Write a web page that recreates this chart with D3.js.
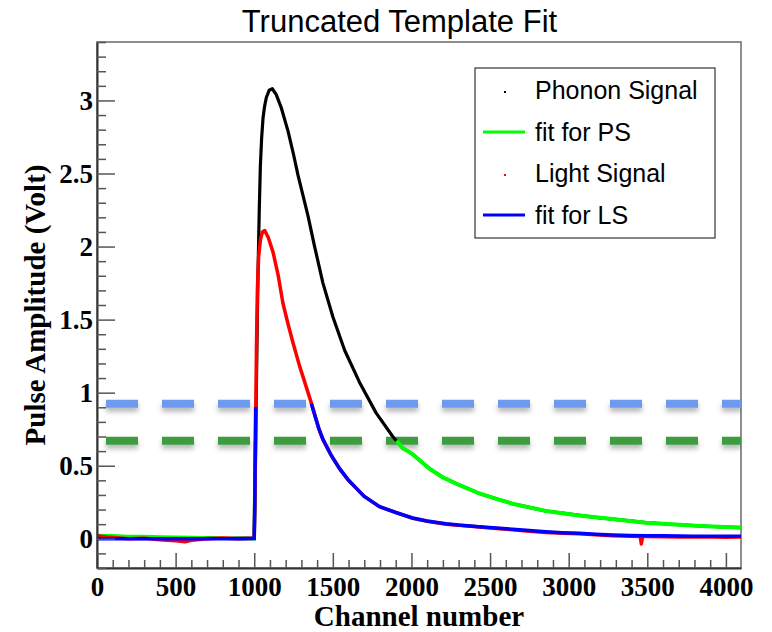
<!DOCTYPE html>
<html><head><meta charset="utf-8">
<script src="https://cdn.jsdelivr.net/npm/d3@7/dist/d3.min.js"></script>
<style>body{margin:0;background:#fff}svg{display:block}</style>
</head><body><svg id="c" width="772" height="632"></svg>
<script>
// ---------------- data ----------------
const xMajorTicks = [0,500,1000,1500,2000,2500,3000,3500,4000];
const yMajorTicks = [0,0.5,1,1.5,2,2.5,3];
const yTickLabels = ["0","0.5","1","1.5","2","2.5","3"];
const legendLabels = ["Phonon Signal","fit for PS","Light Signal","fit for LS"];
const thresholdLS = 0.925;   // blue dashed level
const thresholdPS = 0.671;   // green dashed level

const phononCh = [0,100,200,300,400,500,600,700,800,900,1000,1005,1010,1014,1019,1024,1032,1039,1047,1056,1066,1077,1095,1115,1140,1172,1215,1250,1278,1310,1342,1384,1437,1500,1575,1670,1776,1881,1945,2000,2114,2200,2300,2432,2550,2643,2750,2855,2960,3067,3170,3278,3390,3490,3600,3702,3800,3913,4000,4096];
const phononV  = [0.012,0.006,0.01,0.002,0.006,0.0,-0.004,0.006,0.002,0.005,0.006,0.3,0.75,1.04,1.45,1.81,2.25,2.55,2.74,2.88,2.96,3.02,3.07,3.08,3.04,2.95,2.79,2.63,2.49,2.35,2.21,2.0,1.75,1.52,1.29,1.07,0.86,0.70,0.62,0.585,0.48,0.42,0.37,0.31,0.27,0.24,0.215,0.19,0.175,0.16,0.147,0.135,0.122,0.11,0.103,0.096,0.09,0.084,0.08,0.077];

const lightCh = [0,60,100,200,300,400,500,560,600,700,800,900,1000,1004,1008,1014,1020,1028,1040,1052,1067,1090,1120,1151,1183,1215,1247,1289,1310,1363,1412,1437,1490,1543,1600,1650,1700,1797,1900,2008,2100,2220,2300,2432,2540,2643,2750,2855,2960,3067,3170,3278,3390,3455,3462,3470,3490,3600,3702,3800,3913,4000,4096];
const lightV  = [0.02,0.012,0.008,0.0,0.004,-0.006,-0.014,-0.02,-0.01,0.0,0.006,0.0,0.004,0.25,0.6,1.3,1.7,1.93,2.05,2.1,2.11,2.06,1.96,1.81,1.61,1.47,1.34,1.18,1.11,0.93,0.75,0.68,0.57,0.48,0.40,0.345,0.29,0.22,0.18,0.14,0.12,0.10,0.092,0.08,0.07,0.062,0.052,0.043,0.038,0.034,0.027,0.021,0.018,0.016,-0.035,0.015,0.016,0.014,0.013,0.012,0.013,0.011,0.012];

// fit for PS: truncated above the green threshold
const fitPsHeadCh = [0,100,200,300,400,500,600,700,800,900,1000,1004,1008];
const fitPsHeadV  = [0.022,0.02,0.016,0.016,0.012,0.01,0.008,0.006,0.004,0.002,0.0,0.35,0.671];
const fitPsTailCh = [1905,1945,2000,2114,2200,2300,2432,2550,2643,2750,2855,2960,3067,3170,3278,3390,3490,3600,3702,3800,3913,4000,4096];
const fitPsTailV  = [0.671,0.62,0.585,0.48,0.42,0.37,0.31,0.27,0.24,0.215,0.19,0.175,0.16,0.147,0.135,0.122,0.11,0.103,0.096,0.09,0.084,0.08,0.077];

// fit for LS: truncated above the blue threshold
const fitLsHeadCh = [0,100,200,300,400,500,600,700,800,900,1000,1004,1009];
const fitLsHeadV  = [0.0,0.0,0.0,0.0,0.0,0.0,0.0,0.0,0.0,0.0,0.002,0.3,0.9];
const fitLsTailCh = [1363,1412,1437,1490,1543,1600,1650,1700,1797,1900,2008,2100,2220,2300,2432,2540,2643,2750,2855,2960,3067,3170,3278,3390,3490,3600,3702,3800,3913,4000,4096];
const fitLsTailV  = [0.925,0.75,0.68,0.57,0.48,0.40,0.345,0.29,0.22,0.18,0.142,0.122,0.103,0.094,0.083,0.073,0.065,0.056,0.048,0.042,0.037,0.031,0.026,0.023,0.021,0.02,0.019,0.018,0.018,0.017,0.017];

// ---------------- drawing ----------------
const W = 772, H = 632;
const fr = {left: 97, right: 741, top: 42, bottom: 568};
const svg = d3.select("#c");
const x = d3.scaleLinear().domain([0, 4096]).range([fr.left, fr.right]);
const y = d3.scaleLinear().domain([-0.2, 3.4]).range([fr.bottom, fr.top]);

const defs = svg.append("defs");
const flt = defs.append("filter").attr("id","sh").attr("filterUnits","userSpaceOnUse")
  .attr("x",0).attr("y",0).attr("width",W).attr("height",H);
flt.append("feDropShadow").attr("dx",0).attr("dy",4).attr("stdDeviation",2.5).attr("flood-color","#000").attr("flood-opacity",0.28);
defs.append("clipPath").attr("id","clip").append("rect")
  .attr("x",fr.left).attr("y",fr.top).attr("width",fr.right-fr.left).attr("height",fr.bottom-fr.top);

// title
svg.append("text").attr("x",399.5).attr("y",32).attr("text-anchor","middle")
  .style("font-family","'Liberation Sans', Arial, sans-serif").style("font-size","31px")
  .text("Truncated Template Fit");

// frame
svg.append("rect").attr("x",fr.left).attr("y",fr.top).attr("width",fr.right-fr.left).attr("height",fr.bottom-fr.top)
  .attr("fill","none").attr("stroke","#6a6a6a").attr("stroke-width",1.5);

// dashed threshold lines
const plot = svg.append("g").attr("clip-path","url(#clip)");
[[thresholdLS,"#6e9bef"],[thresholdPS,"#3c9c3c"]].forEach(([v,c])=>{
  plot.append("line").attr("x1",fr.left).attr("x2",fr.right).attr("y1",y(v)).attr("y2",y(v))
    .attr("stroke",c).attr("stroke-width",8).attr("stroke-dasharray","32,24").attr("stroke-dashoffset",47)
    .attr("filter","url(#sh)");
});

const line = d3.line().x(d=>x(d[0])).y(d=>y(d[1]));
const zip = (a,b)=>a.map((c,i)=>[c,b[i]]);

plot.append("path").attr("d",line(zip(phononCh,phononV))).attr("fill","none").attr("stroke","#000").attr("stroke-width",3.2).attr("stroke-linejoin","round");
plot.append("path").attr("d",line(zip(fitPsHeadCh,fitPsHeadV))).attr("fill","none").attr("stroke","#00ff00").attr("stroke-width",3.5);
plot.append("path").attr("d",line(zip(fitPsTailCh,fitPsTailV))).attr("fill","none").attr("stroke","#00ff00").attr("stroke-width",4);
plot.append("path").attr("d",line(zip(lightCh,lightV))).attr("fill","none").attr("stroke","#ff0000").attr("stroke-width",3.5).attr("stroke-linejoin","round");
plot.append("path").attr("d",line(zip(fitLsHeadCh,fitLsHeadV))).attr("fill","none").attr("stroke","#0000ff").attr("stroke-width",3.5);
plot.append("path").attr("d",line(zip(fitLsTailCh,fitLsTailV))).attr("fill","none").attr("stroke","#0000ff").attr("stroke-width",3.5);

// axes
const tickFont = "'Liberation Serif', 'Times New Roman', serif";
const xMinor = d3.range(0, 4097, 100).filter(v => v % 500 !== 0);
const yMinor = d3.range(-2, 35).map(v => v/10).filter(v => Math.round(v*10) % 5 !== 0);

svg.append("g").attr("transform",`translate(0,${fr.bottom})`)
  .call(d3.axisBottom(x).tickValues(xMajorTicks).tickSizeInner(-15).tickSizeOuter(0).tickPadding(9).tickFormat(d3.format("d")));
svg.append("g").attr("transform",`translate(0,${fr.bottom})`)
  .call(d3.axisBottom(x).tickValues(xMinor).tickSizeInner(-8).tickSizeOuter(0).tickFormat(""))
  .select(".domain").remove();
svg.append("g").attr("transform",`translate(${fr.left},0)`)
  .call(d3.axisLeft(y).tickValues(yMajorTicks).tickSizeInner(-18).tickSizeOuter(0).tickPadding(4).tickFormat((d,i)=>yTickLabels[i]));
svg.append("g").attr("transform",`translate(${fr.left},0)`)
  .call(d3.axisLeft(y).tickValues(yMinor).tickSizeInner(-9).tickSizeOuter(0).tickFormat(""))
  .select(".domain").remove();

svg.selectAll(".tick line").attr("stroke","#555").attr("stroke-width",1.5);
svg.selectAll(".domain").attr("stroke","#333").attr("stroke-width",2);
svg.selectAll(".tick text").style("font-family",tickFont).style("font-weight","bold").style("font-size","27px").attr("fill","#000");

// axis titles
svg.append("text").attr("x",(fr.left+fr.right)/2).attr("y",626).attr("text-anchor","middle")
  .style("font-family",tickFont).style("font-weight","bold").style("font-size","29px").text("Channel number");
svg.append("text").attr("transform",`translate(45,${(fr.top+fr.bottom)/2}) rotate(-90)`).attr("text-anchor","middle")
  .style("font-family",tickFont).style("font-weight","bold").style("font-size","29px").text("Pulse Amplitude (Volt)");

// legend
const lg = svg.append("g");
lg.append("rect").attr("x",475).attr("y",68).attr("width",240).attr("height",170).attr("fill","#fff").attr("stroke","#333").attr("stroke-width",1.2);
const rowY = [90,132,173,215];
const kinds = [["dot","#000"],["line","#00ff00"],["dot","#ff0000"],["line","#0000ff"]];
legendLabels.forEach((t,i)=>{
  const [k,c] = kinds[i];
  if (k==="dot") lg.append("rect").attr("x",504).attr("y",rowY[i]+1).attr("width",2).attr("height",2).attr("fill",c);
  else lg.append("line").attr("x1",483).attr("x2",525).attr("y1",rowY[i]).attr("y2",rowY[i]).attr("stroke",c).attr("stroke-width",3);
  lg.append("text").attr("x",535).attr("y",rowY[i]).attr("dy","0.36em")
    .style("font-family","'Liberation Sans', Arial, sans-serif").style("font-size","25px").text(t);
});
</script>
</body></html>
